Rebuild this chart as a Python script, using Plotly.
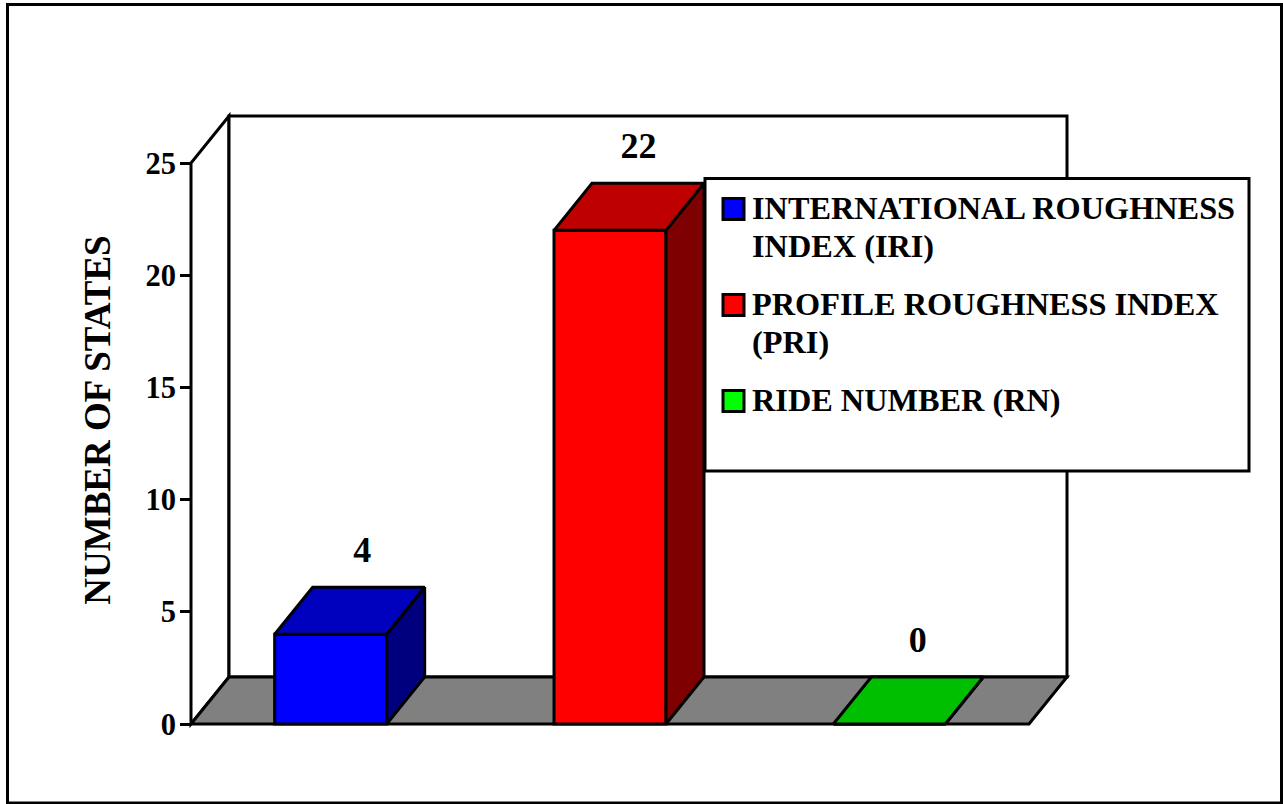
import plotly.graph_objects as go

categories = ["INTERNATIONAL ROUGHNESS<br>INDEX (IRI)",
              "PROFILE ROUGHNESS INDEX<br>(PRI)",
              "RIDE NUMBER (RN)"]
values = [4, 22, 0]
front_colors = ["#0000FF", "#FF0000", "#00FF00"]
top_colors = ["#0000BF", "#BF0000", "#00BF00"]
side_colors = ["#00007F", "#7F0000", "#007F00"]
y_ticks = [0, 5, 10, 15, 20, 25]
y_title = "NUMBER OF STATES"

W, H = 1283, 804
FONT = "Liberation Serif"
LW = 3
# plot rectangle on the page, with 10 px of padding round the drawing
PAD = 10
LEFT, RIGHT, TOP, BOTTOM = 191, 1067, 116, 724
PX_PER_CAT = (1029 - 191) / 3
PX_PER_UNIT = (724 - 163) / 25
DX = 38 / PX_PER_CAT      # depth, in category units
DY = 47 / PX_PER_UNIT     # depth, in value units
BAR_W = 112 / PX_PER_CAT
YMAX = y_ticks[-1]
NCAT = len(categories)
LABEL_NUDGE = [3 / PX_PER_CAT, 0, 0]

plot_w = RIGHT - LEFT + 2 * PAD
plot_h = BOTTOM - TOP + 2 * PAD


def paper_x(px):
    return (px - (LEFT - PAD)) / plot_w


def paper_y(py):
    return ((BOTTOM + PAD) - py) / plot_h


def poly(points):
    return "M" + " L".join(f"{x},{y}" for x, y in points) + " Z"


line = dict(color="black", width=LW)
shapes = [
    dict(type="path", layer="below", xref="x", yref="y", line=line, fillcolor="white",
         path=poly([(0, 0), (DX, DY), (DX, YMAX + DY), (0, YMAX)])),
    dict(type="path", layer="below", xref="x", yref="y", line=line, fillcolor="white",
         path=poly([(DX, DY), (NCAT + DX, DY), (NCAT + DX, YMAX + DY), (DX, YMAX + DY)])),
    dict(type="path", layer="below", xref="x", yref="y", line=line, fillcolor="#808080",
         path=poly([(0, 0), (DX, DY), (NCAT + DX, DY), (NCAT, 0)])),
    # outer frame
    dict(type="rect", xref="paper", yref="paper", line=line, fillcolor="rgba(0,0,0,0)",
         x0=paper_x(7.5), x1=paper_x(1281.5), y0=paper_y(803), y1=paper_y(4.5)),
    # legend box
    dict(type="rect", xref="paper", yref="paper", line=line, fillcolor="white",
         x0=paper_x(705), x1=paper_x(1249), y0=paper_y(471), y1=paper_y(178.5)),
]

fig = go.Figure()
for i, (name, v) in enumerate(zip(categories, values)):
    fig.add_trace(go.Bar(
        x=[i + 0.5], y=[v], width=[BAR_W], name=name,
        marker=dict(color=front_colors[i], line=line), hoverinfo="skip",
    ))
for i, v in enumerate(values):
    c = i + 0.5
    l, r = c - BAR_W / 2, c + BAR_W / 2
    fig.add_trace(go.Scatter(
        x=[r, r + DX, r + DX, r, r], y=[0, DY, v + DY, v, 0], mode="lines", fill="toself",
        fillcolor=side_colors[i], line=line, showlegend=False, hoverinfo="skip",
    ))
    fig.add_trace(go.Scatter(
        x=[l, r, r + DX, l + DX, l], y=[v, v, v + DY, v + DY, v], mode="lines", fill="toself",
        fillcolor=top_colors[i], line=line, showlegend=False, hoverinfo="skip",
    ))

fig.add_trace(go.Scatter(
    x=[i + 0.5 + DX * 0.75 + LABEL_NUDGE[i] for i in range(NCAT)],
    y=[v + DY + 34 / PX_PER_UNIT for v in values],
    text=[str(v) for v in values], mode="text", textposition="middle center",
    textfont=dict(family=FONT, size=36, color="black", weight=700),
    showlegend=False, hoverinfo="skip", cliponaxis=False,
))

fig.update_layout(
    width=W, height=H,
    margin=dict(l=LEFT - PAD, r=W - RIGHT - PAD, t=TOP - PAD, b=H - BOTTOM - PAD, autoexpand=False),
    paper_bgcolor="white", plot_bgcolor="rgba(0,0,0,0)",
    barmode="overlay", shapes=shapes, font=dict(family=FONT, color="black"),
    legend=dict(
        x=paper_x(712), y=paper_y(178.5), xanchor="left", yanchor="top",
        bgcolor="rgba(0,0,0,0)", borderwidth=0, traceorder="normal",
        font=dict(family=FONT, size=32.3, color="black", weight=700),
        itemclick=False, itemdoubleclick=False,
    ),
    xaxis=dict(
        range=[-PAD / PX_PER_CAT, NCAT + DX + PAD / PX_PER_CAT], visible=False, fixedrange=True,
    ),
    yaxis=dict(
        range=[-PAD / PX_PER_UNIT, (BOTTOM - TOP + PAD) / PX_PER_UNIT],
        anchor="free", position=paper_x(LEFT), tickvals=y_ticks,
        ticks="outside", ticklen=11, tickwidth=LW, tickcolor="black", ticklabelstandoff=-2,
        showgrid=False, zeroline=False, showline=False, fixedrange=True,
        tickfont=dict(family=FONT, size=30.5, color="black", weight=700),
        title=dict(text=y_title, standoff=22,
                   font=dict(family=FONT, size=37, color="black", weight=700)),
    ),
)

post = """
document.body.style.margin = '0';
var itemY = [30.5, 126.5, 222.5], lineGap = 38, baseline = 10;
document.querySelectorAll('.legend .scrollbox').forEach(function (b) {
  b.removeAttribute('clip-path');
  b.style.clipPath = 'none';
});
document.querySelectorAll('.legend .traces').forEach(function (t, i) {
  t.setAttribute('transform', 'translate(0,' + itemY[i] + ')');
  t.querySelectorAll('.legendpoints path').forEach(function (p) {
    p.setAttribute('d', 'M12,10.5H-9V-10.5H12Z');
  });
  var txt = t.querySelector('text.legendtext');
  txt.setAttribute('y', baseline);
  txt.querySelectorAll('tspan.line').forEach(function (s, k) {
    s.removeAttribute('dy');
    s.setAttribute('y', baseline + k * lineGap);
  });
});
"""
fig.write_html("out.html", post_script=post, config=dict(displayModeBar=False))
